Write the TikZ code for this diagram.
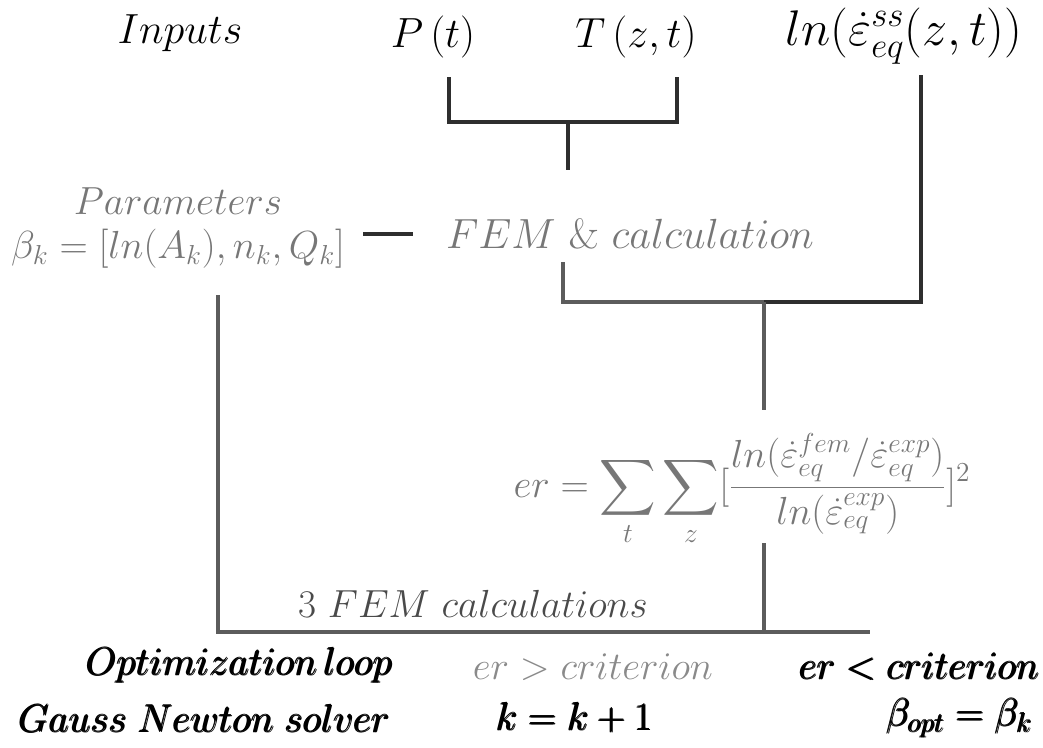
\RequirePackage{fix-cm}
\documentclass[tikz,border=0pt]{standalone}
\usepackage{amsmath, amssymb}
\usepackage{tikz}
\usetikzlibrary{calc}

\definecolor{linedark}{HTML}{2E2E2E}
\definecolor{linegray}{HTML}{5C5C5C}
\definecolor{txtgray}{HTML}{777777}
\definecolor{txtmid}{HTML}{4A4A4A}
\definecolor{txtlight}{HTML}{8A8A8A}

\begin{document}
\begin{tikzpicture}[x=0.02cm, y=-0.02cm,
		lbl/.style = {font=\fontsize{24}{25}\selectfont, inner sep=0pt},
		sml/.style = {font=\fontsize{22.3}{23}\selectfont, inner sep=0pt},
		dk/.style = {draw=linedark, line width=2.2pt},
		gr/.style = {draw=linegray, line width=1.8pt}]
				\useasboundingbox (0,0) rectangle (1043,747);
				% inputs
				\node[lbl] (inputs) at (180,33) {$Inputs$};
				\node[lbl] (P) at (433,37) {$P\,(t)$};
				\node[lbl] (T) at (636,37) {$T\,(z,t)$};
				\node[lbl, font=\fontsize{28.5}{30}\selectfont] (lnss) at (904,36) {$ln(\dot{\varepsilon}^{ss}_{eq}(z,t))$};
				% model
				\node[sml, text=txtgray, align=center] (param) at (178,228) {$Parameters$\\[2pt]$\beta_k=[ln(A_k),n_k,Q_k]$};
				\node[lbl, text=txtgray] (fem) at (630,234) {$FEM\ \&\ calculation$};
				\node[sml, text=txtgray] (err) at (742,490) {$\displaystyle er=\sum_t\sum_z[\frac{ln(\dot{\varepsilon}^{fem}_{eq}/\dot{\varepsilon}^{exp}_{eq})}{ln(\dot{\varepsilon}^{exp}_{eq})}]^2$};
				\node[sml, text=txtmid] (nfem) at (473,604) {$3\ FEM\ calculations$};
				% outcome
				\node[sml] (loop) at (240,665) {$\pmb{Optimization\,loop}$};
				\node[sml, text=txtlight] (gt) at (593,667) {$er>criterion$};
				\node[sml] (lt) at (920,667) {$\pmb{er<criterion}$};
				\node[sml] (gn) at (205,718) {$\pmb{Gauss\;Newton\;solver}$};
				\node[sml] (kk) at (575,718) {$\pmb{k=k+1}$};
				\node[sml] (bopt) at (960,718) {$\pmb{\beta_{opt}=\beta_k}$};
				% joints
				\coordinate (pA) at (449,77);
				\coordinate (tA) at (677,77);
				\coordinate (ptJ) at (568,122);
				\coordinate (femIn) at (568,170);
				\coordinate (lnA) at (921,75);
				\coordinate (femOut) at (563,262);
				\coordinate (outJ) at (764,302);
				\coordinate (erIn) at (764,410);
				\coordinate (erOut) at (764,543);
				\coordinate (loopJ) at (764,632);
				\coordinate (parOut) at (218,295);
				\coordinate (loopEnd) at (870,632);
				\draw[dk] (pA) |- (ptJ) -| (tA);
				\draw[dk] (ptJ) -- (femIn);
				\draw[gr] (femOut) |- (outJ);
				\draw[dk] (outJ) -| (lnA);
				\draw[gr] (outJ) -- (erIn);
				\draw[gr] (erOut) -- (loopJ);
				\draw[gr] (parOut) |- (loopJ) -- (loopEnd);
				\draw[dk] ([xshift=0.36cm]param.east |- fem.center) -- ([xshift=-0.66cm]fem.west);
			\end{tikzpicture}
\end{document}
